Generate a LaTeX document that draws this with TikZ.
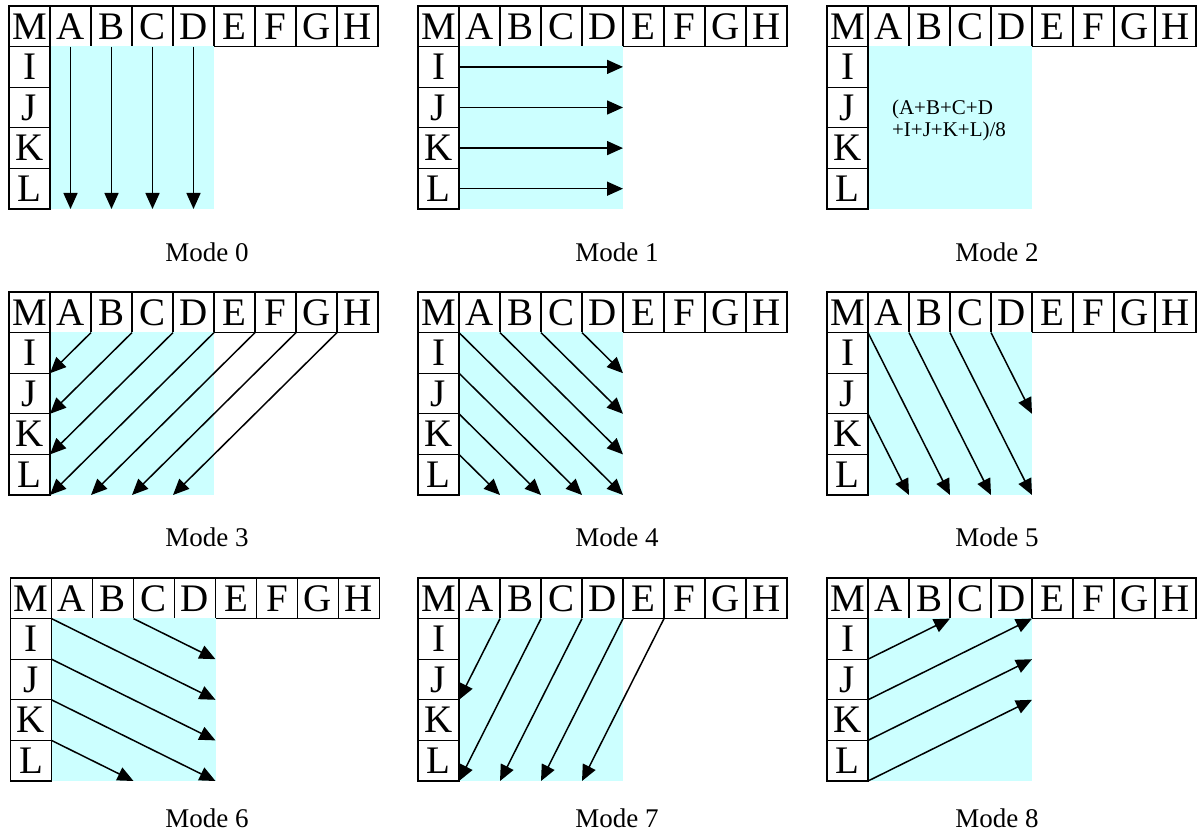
\documentclass[tikz,border=0pt]{standalone}
\usepackage{fontspec}
\setmainfont{Liberation Serif}
\usepackage{xcolor}
\usetikzlibrary{arrows.meta,positioning}
\definecolor{cCyan}{HTML}{CCFFFF}
\tikzset{
  cell/.style={draw=black,line width=0.6pt,minimum width=20.5pt,minimum height=20.3pt,inner sep=0pt,outer sep=0pt,font=\fontsize{19.5}{20}\selectfont},
  arr/.style={-{Triangle[length=8pt,width=7pt]},line width=0.75pt,black},
  mlbl/.style={font=\fontsize{13.5}{15}\selectfont},
}
% one panel: id, corner of M, label position, mode number
\newcommand{\modepanel}[6]{%
  \node[cell,anchor=north west] (#1-M) at (#2,#3) {M};
  \foreach \a/\b in {A/M,B/A,C/B,D/C,E/D,F/E,G/F,H/G}
    \node[cell,right=0pt of #1-\b] (#1-\a) {\a};
  \foreach \a/\b in {I/M,J/I,K/J,L/K}
    \node[cell,below=0pt of #1-\b] (#1-\a) {\a};
  \fill[cCyan] ([xshift=0.3pt,yshift=0.3pt]#1-A.south west) rectangle (#1-D.south east |- #1-L.south);
  \node[mlbl] (#1-lbl) at (#4,#5) {Mode #6};
}

\begin{document}
\begin{tikzpicture}[x=0.5pt,y=-0.5pt]
  \useasboundingbox (0,0) rectangle (1202,839);

  \modepanel{p0}{9}{6}{207}{252}{0}
  \modepanel{p1}{418}{6}{617}{252}{1}
  \modepanel{p2}{827}{6}{997}{252}{2}
  \modepanel{p3}{9}{292}{207}{537}{3}
  \modepanel{p4}{418}{292}{617}{537}{4}
  \modepanel{p5}{827}{292}{997}{537}{5}
  \modepanel{p6}{10.5}{578}{207}{818}{6}
  \modepanel{p7}{418}{578}{617}{818}{7}
  \modepanel{p8}{827}{578}{997}{818}{8}

  % mode 0: vertical
  \foreach \c in {A,B,C,D}
    \draw[arr] (p0-\c.south) -- (p0-\c.south |- p0-L.south);

  % mode 1: horizontal
  \foreach \r in {I,J,K,L}
    \draw[arr] (p1-\r.east) -- (p1-\r.east -| p1-D.east);

  % mode 2: average
  \node[font=\fontsize{10.5}{11}\selectfont,align=left,anchor=west] (p2-avg)
    at ([xshift=8.5pt,yshift=3.9pt]p2-J.south east) {(A+B+C+D\\+I+J+K+L)/8};

  % mode 3: diagonal down-left
  \draw[arr] (p3-A.south east) -- (p3-I.south east);
  \draw[arr] (p3-B.south east) -- (p3-J.south east);
  \draw[arr] (p3-C.south east) -- (p3-K.south east);
  \draw[arr] (p3-D.south east) -- (p3-L.south east);
  \draw[arr] (p3-E.south east) -- (p3-A.south east |- p3-L.south);
  \draw[arr] (p3-F.south east) -- (p3-B.south east |- p3-L.south);
  \draw[arr] (p3-G.south east) -- (p3-C.south east |- p3-L.south);

  % mode 4: diagonal down-right
  \draw[arr] (p4-C.south east) -- (p4-D.south east |- p4-I.south);
  \draw[arr] (p4-B.south east) -- (p4-D.south east |- p4-J.south);
  \draw[arr] (p4-A.south east) -- (p4-D.south east |- p4-K.south);
  \draw[arr] (p4-M.south east) -- (p4-D.south east |- p4-L.south);
  \draw[arr] (p4-I.south east) -- (p4-C.south east |- p4-L.south);
  \draw[arr] (p4-J.south east) -- (p4-B.south east |- p4-L.south);
  \draw[arr] (p4-K.south east) -- (p4-A.south east |- p4-L.south);

  % mode 5: vertical-right
  \draw[arr] (p5-M.south east) -- (p5-B.south east |- p5-L.south);
  \draw[arr] (p5-A.south east) -- (p5-C.south east |- p5-L.south);
  \draw[arr] (p5-B.south east) -- (p5-D.south east |- p5-L.south);
  \draw[arr] (p5-C.south east) -- (p5-D.south east |- p5-J.south);
  \draw[arr] (p5-J.south east) -- (p5-A.south east |- p5-L.south);

  % mode 6: horizontal-down
  \draw[arr] (p6-M.south east) -- (p6-D.south east |- p6-J.south);
  \draw[arr] (p6-B.south east) -- (p6-D.south east |- p6-I.south);
  \draw[arr] (p6-I.south east) -- (p6-D.south east |- p6-K.south);
  \draw[arr] (p6-J.south east) -- (p6-D.south east |- p6-L.south);
  \draw[arr] (p6-K.south east) -- (p6-B.south east |- p6-L.south);

  % mode 7: vertical-left
  \draw[arr] (p7-A.south east) -- (p7-J.south east);
  \draw[arr] (p7-B.south east) -- (p7-L.south east);
  \draw[arr] (p7-C.south east) -- (p7-A.south east |- p7-L.south);
  \draw[arr] (p7-D.south east) -- (p7-B.south east |- p7-L.south);
  \draw[arr] (p7-E.south east) -- (p7-C.south east |- p7-L.south);

  % mode 8: horizontal-up
  \draw[arr] (p8-I.south east) -- (p8-B.south east);
  \draw[arr] (p8-J.south east) -- (p8-D.south east);
  \draw[arr] (p8-K.south east) -- (p8-D.south east |- p8-I.south);
  \draw[arr] (p8-L.south east) -- (p8-D.south east |- p8-J.south);
\end{tikzpicture}
\end{document}
